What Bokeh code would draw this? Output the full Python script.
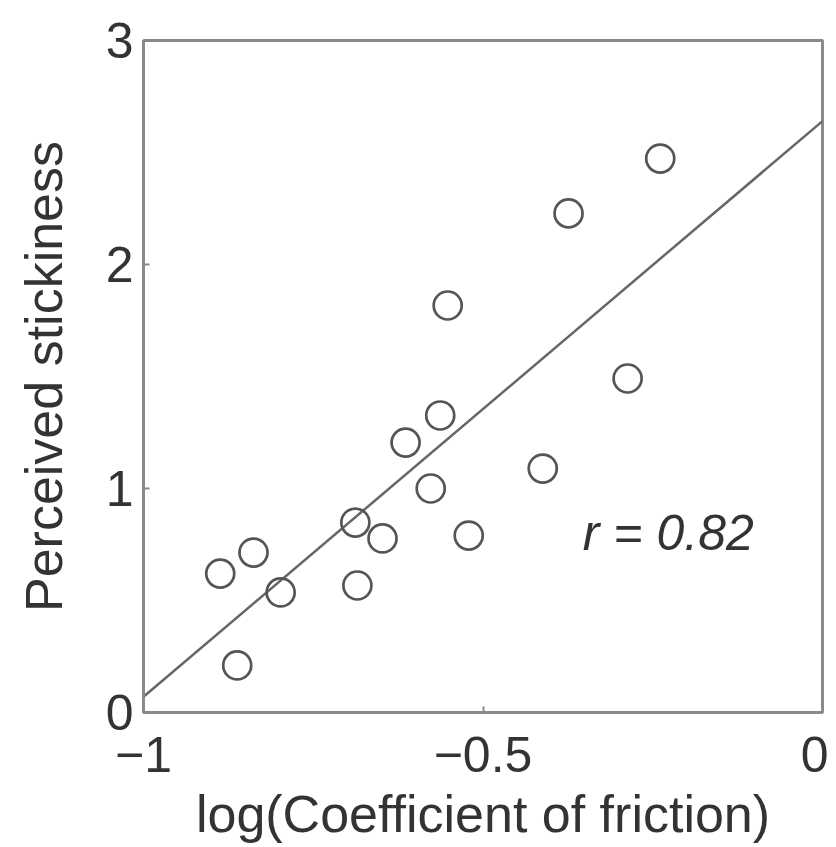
from bokeh.plotting import figure
from bokeh.models import Range1d, FixedTicker, Label
from bokeh.embed import file_html
from bokeh.resources import INLINE

# Data
friction_log = [-0.887, -0.838, -0.798, -0.862, -0.688, -0.685, -0.648, -0.614,
                -0.563, -0.552, -0.577, -0.521, -0.412, -0.374, -0.287, -0.239]
stickiness = [0.62, 0.714, 0.536, 0.21, 0.848, 0.567, 0.777, 1.205,
              1.326, 1.817, 1.0, 0.79, 1.089, 2.228, 1.491, 2.473]
fit_x = [-1.0, 0.0]
fit_y = [0.07, 2.64]
x_ticks = [-1, -0.5, 0]
x_tick_labels = ["\u22121", "\u22120.5", "0"]
y_ticks = [0, 1, 2, 3]
annotation = "r = 0.82"

FONT = "Liberation Sans"
TEXT_COLOR = "#333333"
AXIS_COLOR = "#8a8a8a"

p = figure(width=828, height=845, output_backend="svg", toolbar_location=None,
           x_range=Range1d(-1, 0), y_range=Range1d(0, 3),
           min_border_left=143, min_border_right=6, min_border_top=40, min_border_bottom=10)

p.xgrid.visible = False
p.ygrid.visible = False
p.outline_line_color = AXIS_COLOR
p.outline_line_width = 3
p.background_fill_color = "white"
p.border_fill_color = "white"

p.xaxis.ticker = FixedTicker(ticks=x_ticks)
p.xaxis.major_label_overrides = {t: l for t, l in zip(x_ticks, x_tick_labels)}
p.yaxis.ticker = FixedTicker(ticks=y_ticks)

for ax in (p.xaxis[0], p.yaxis[0]):
    ax.axis_line_color = AXIS_COLOR
    ax.axis_line_width = 3
    ax.major_tick_in = 6
    ax.major_tick_out = 0
    ax.major_tick_line_color = AXIS_COLOR
    ax.major_tick_line_width = 2
    ax.minor_tick_line_color = None
    ax.major_label_text_font = FONT
    ax.major_label_text_font_size = "50px"
    ax.major_label_text_color = TEXT_COLOR
    ax.axis_label_text_font = FONT
    ax.axis_label_text_font_size = "52px"
    ax.axis_label_text_font_style = "normal"
    ax.axis_label_text_color = TEXT_COLOR

p.xaxis.axis_label = "log(Coefficient of friction)"
p.yaxis.axis_label = "Perceived stickiness"
p.xaxis.major_label_standoff = 24
p.xaxis.axis_label_standoff = 10
p.yaxis.major_label_standoff = 10
p.yaxis.axis_label_standoff = 30

p.line(fit_x, fit_y, line_color="#666666", line_width=2.5)
p.scatter(friction_log, stickiness, marker="circle", size=28,
          fill_color=None, line_color="#555555", line_width=2.7)

p.add_layout(Label(x=-0.353, y=0.80, text=annotation, text_font=FONT,
                   text_font_size="50px", text_font_style="italic",
                   text_color=TEXT_COLOR, text_baseline="alphabetic"))

open("out.html", "w").write(file_html(p, INLINE))
